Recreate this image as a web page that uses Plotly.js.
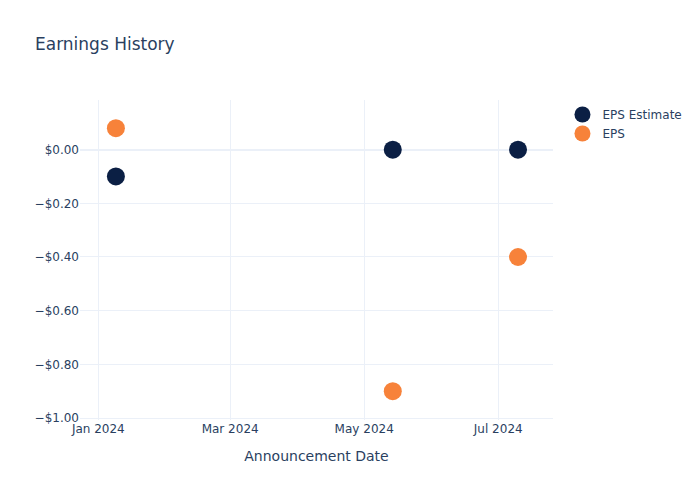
<!DOCTYPE html>
<html>
<head>
<meta charset="utf-8">
<script src="https://cdn.plot.ly/plotly-3.0.1.min.js"></script>
<style>body{margin:0;padding:0;}#chart{width:700px;height:500px;}</style>
</head>
<body>
<div id="chart"></div>
<script>
const dates = ["2024-01-09", "2024-05-14", "2024-07-10"];
const epsEstimate = [-0.10, 0.00, 0.00];
const eps = [0.08, -0.90, -0.40];

const traces = [
  {x: dates, y: epsEstimate, name: "EPS Estimate", mode: "markers", type: "scatter",
   marker: {color: "#0B1F44", size: 18}},
  {x: dates, y: eps, name: "EPS", mode: "markers", type: "scatter",
   marker: {color: "#F7823A", size: 18}}
];

const layout = {
  width: 700, height: 500,
  title: {text: "Earnings History", x: 0.05, font: {size: 17, color: "#2a3f5f"}},
  font: {family: "'DejaVu Sans', 'Open Sans', sans-serif", color: "#2a3f5f", size: 12},
  paper_bgcolor: "white", plot_bgcolor: "white",
  margin: {l: 80, r: 147, t: 100, b: 80},
  xaxis: {
    title: {text: "Announcement Date", font: {size: 14}, standoff: 16},
    type: "date",
    range: ["2023-12-23 16:00", "2024-07-25 22:00"],
    gridcolor: "#EBF0F8", zeroline: false,
    tickformat: "%b %Y",
    dtick: "M2", tick0: "2024-01-01",
    tickfont: {size: 12}
  },
  yaxis: {
    range: [-1.0074, 0.185],
    tickformat: "$,.2f",
    dtick: 0.2,
    gridcolor: "#EBF0F8", zerolinecolor: "#EBF0F8", zerolinewidth: 2,
    tickfont: {size: 12}
  },
  legend: {x: 1.02, y: 1, font: {size: 12}},
  showlegend: true
};

Plotly.newPlot("chart", traces, layout, {displayModeBar: false});
</script>
</body>
</html>
